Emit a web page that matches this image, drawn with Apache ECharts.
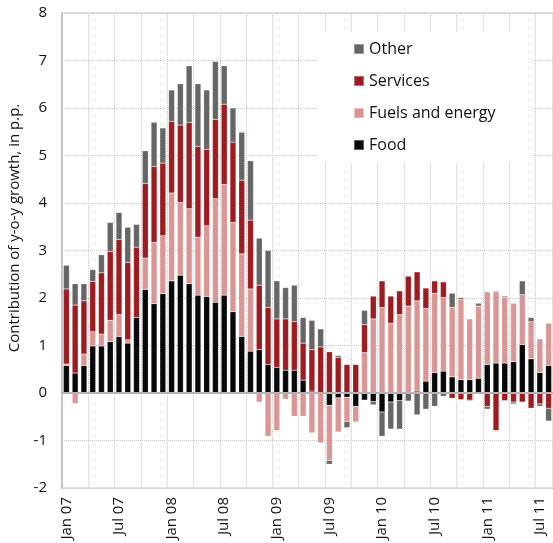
<!DOCTYPE html>
<html>
<head>
<meta charset="utf-8">
<script src="https://cdn.jsdelivr.net/npm/echarts@6/dist/echarts.min.js"></script>
<style>
html, body { margin: 0; padding: 0; background: #fff; }
#chart { width: 553px; height: 543px; }
</style>
</head>
<body>
<div id="chart"></div>
<script>
// monthly categories, Jan 07 - Aug 11
const categories = [
    'Jan 07', 'Feb 07', 'Mar 07', 'Apr 07', 'May 07', 'Jun 07', 'Jul 07', 'Aug 07', 'Sep 07', 'Oct 07', 'Nov 07', 'Dec 07',
    'Jan 08', 'Feb 08', 'Mar 08', 'Apr 08', 'May 08', 'Jun 08', 'Jul 08', 'Aug 08', 'Sep 08', 'Oct 08', 'Nov 08', 'Dec 08',
    'Jan 09', 'Feb 09', 'Mar 09', 'Apr 09', 'May 09', 'Jun 09', 'Jul 09', 'Aug 09', 'Sep 09', 'Oct 09', 'Nov 09', 'Dec 09',
    'Jan 10', 'Feb 10', 'Mar 10', 'Apr 10', 'May 10', 'Jun 10', 'Jul 10', 'Aug 10', 'Sep 10', 'Oct 10', 'Nov 10', 'Dec 10',
    'Jan 11', 'Feb 11', 'Mar 11', 'Apr 11', 'May 11', 'Jun 11', 'Jul 11', 'Aug 11'
];

const food = [
    0.58, 0.42, 0.58, 0.99, 0.99, 1.08, 1.19, 1.05, 1.59, 2.18, 1.88, 2.09, 2.36, 2.48,
    2.30, 2.06, 2.03, 1.91, 2.06, 1.71, 1.19, 0.88, 0.91, 0.60, 0.54, 0.48, 0.48, 0.27,
    0.04, 0, -0.26, -0.10, -0.09, -0.28, -0.15, -0.18, -0.40, -0.19, -0.16, 0, 0.04, 0.25,
    0.43, 0.46, 0.34, 0.28, 0.28, 0.31, 0.60, 0.63, 0.63, 0.66, 1.02, 0.72, 0.43, 0.58
];
const fuels = [
    0.03, -0.22, 0.24, 0.30, 0.25, 0.45, 0.46, 0.07, -0.03, 0.66, 1.29, 1.22, 1.85, 1.53,
    1.58, 1.22, 1.49, 2.18, 2.33, 1.88, 1.74, 1.31, -0.19, -0.91, -0.79, -0.13, -0.49, -0.49,
    -0.84, -1.05, -1.16, -0.72, -0.51, -0.32, 0.85, 1.56, 1.80, 1.47, 1.65, 1.83, 1.90, 1.53,
    1.67, 1.55, 1.46, 1.69, 1.28, 1.52, 1.53, 1.50, 1.38, 1.23, 1.05, 0.78, 0.71, 0.89
];
const services = [
    1.58, 1.43, 1.12, 1.06, 1.29, 1.45, 1.58, 1.63, 1.48, 1.57, 1.60, 1.53, 1.51, 1.63,
    1.82, 1.91, 1.61, 1.67, 1.69, 1.69, 1.55, 1.45, 1.36, 1.20, 1.02, 1.08, 1.02, 0.78,
    0.87, 0.97, 0.87, 0.75, 0.60, 0.60, 0.59, 0.48, 0.56, 0.57, 0.50, 0.63, 0.61, 0.43,
    0.26, 0.33, -0.11, -0.14, -0.15, 0, -0.28, -0.79, -0.16, -0.19, -0.19, -0.32, -0.23, -0.32
];
const other = [
    0.50, 0.45, 0.36, 0.25, 0.38, 0.61, 0.57, 0.74, 0.48, 0.69, 0.93, 0.74, 0.66, 0.87,
    1.19, 1.32, 1.25, 1.22, 0.81, 0.72, 1.01, 1.25, 0.99, 1.20, 0.80, 0.66, 0.77, 0.54,
    0.62, 0.38, -0.08, 0.04, -0.13, -0.02, 0.30, -0.07, -0.51, -0.57, -0.60, -0.17, -0.46, -0.34,
    -0.28, -0.07, 0.30, 0.04, -0.02, 0.06, -0.06, 0.02, 0.03, -0.04, 0.29, 0.09, -0.05, -0.27
];

const legendOrder = ['Other', 'Services', 'Fuels and energy', 'Food'];
const font = 'Open Sans';

if (typeof echarts !== 'undefined') {
    const chart = echarts.init(document.getElementById('chart'));

    const barSeries = (name, data, color) => ({
        name: name,
        type: 'bar',
        stack: 'total',
        barWidth: 6,
        data: data,
        itemStyle: { color: color, borderColor: 'rgba(255,255,255,0.35)', borderWidth: 0.5 },
        emphasis: { disabled: true }
    });

    const option = {
        animation: false,
        textStyle: { fontFamily: font },
        grid: {
            left: 62, top: 13, width: 494, bottom: 55,
            show: true, borderColor: '#c8c8c8', borderWidth: 1
        },
        legend: {
            data: legendOrder,
            orient: 'vertical',
            left: 318, top: 33,
            padding: [7, 37, 8, 35],
            backgroundColor: '#fff',
            icon: 'rect',
            itemWidth: 10, itemHeight: 10,
            itemGap: 14,
            textStyle: { fontSize: 16, color: '#111', lineHeight: 18, fontFamily: font }
        },
        xAxis: {
            type: 'category',
            data: categories,
            axisLine: { show: false, onZero: false },
            axisTick: { show: false },
            axisLabel: { interval: 5, rotate: 90, fontSize: 15, color: '#111', margin: 9 },
            splitLine: { show: true, interval: 2, lineStyle: { type: 'dotted', color: '#c8c8c8' } }
        },
        yAxis: {
            type: 'value',
            min: -2, max: 8, interval: 1,
            axisLine: { show: true, lineStyle: { color: '#c4c4c4', width: 2 } },
            axisTick: { show: false },
            axisLabel: { fontSize: 15, color: '#111', margin: 15 },
            splitLine: { lineStyle: { type: 'dotted', color: '#c8c8c8' } }
        },
        graphic: [{
            type: 'text',
            x: 15, y: 228,
            rotation: Math.PI / 2,
            style: {
                text: 'Contribution of y-o-y growth, in p.p.',
                font: '15px "Open Sans"',
                fill: '#111',
                textAlign: 'center',
                textVerticalAlign: 'middle'
            }
        }],
        series: [
            barSeries('Food', food, '#080808'),
            barSeries('Fuels and energy', fuels, '#da9694'),
            barSeries('Services', services, '#9e1b20'),
            Object.assign(barSeries('Other', other, '#666666'), {
                markLine: {
                    silent: true,
                    symbol: 'none',
                    label: { show: false },
                    lineStyle: { color: '#b4b4b4', width: 2, type: 'solid' },
                    data: [{ yAxis: 0 }]
                }
            })
        ]
    };
    chart.setOption(option);
} else {
    console.error('ECharts library not loaded.');
}
</script>
</body>
</html>
